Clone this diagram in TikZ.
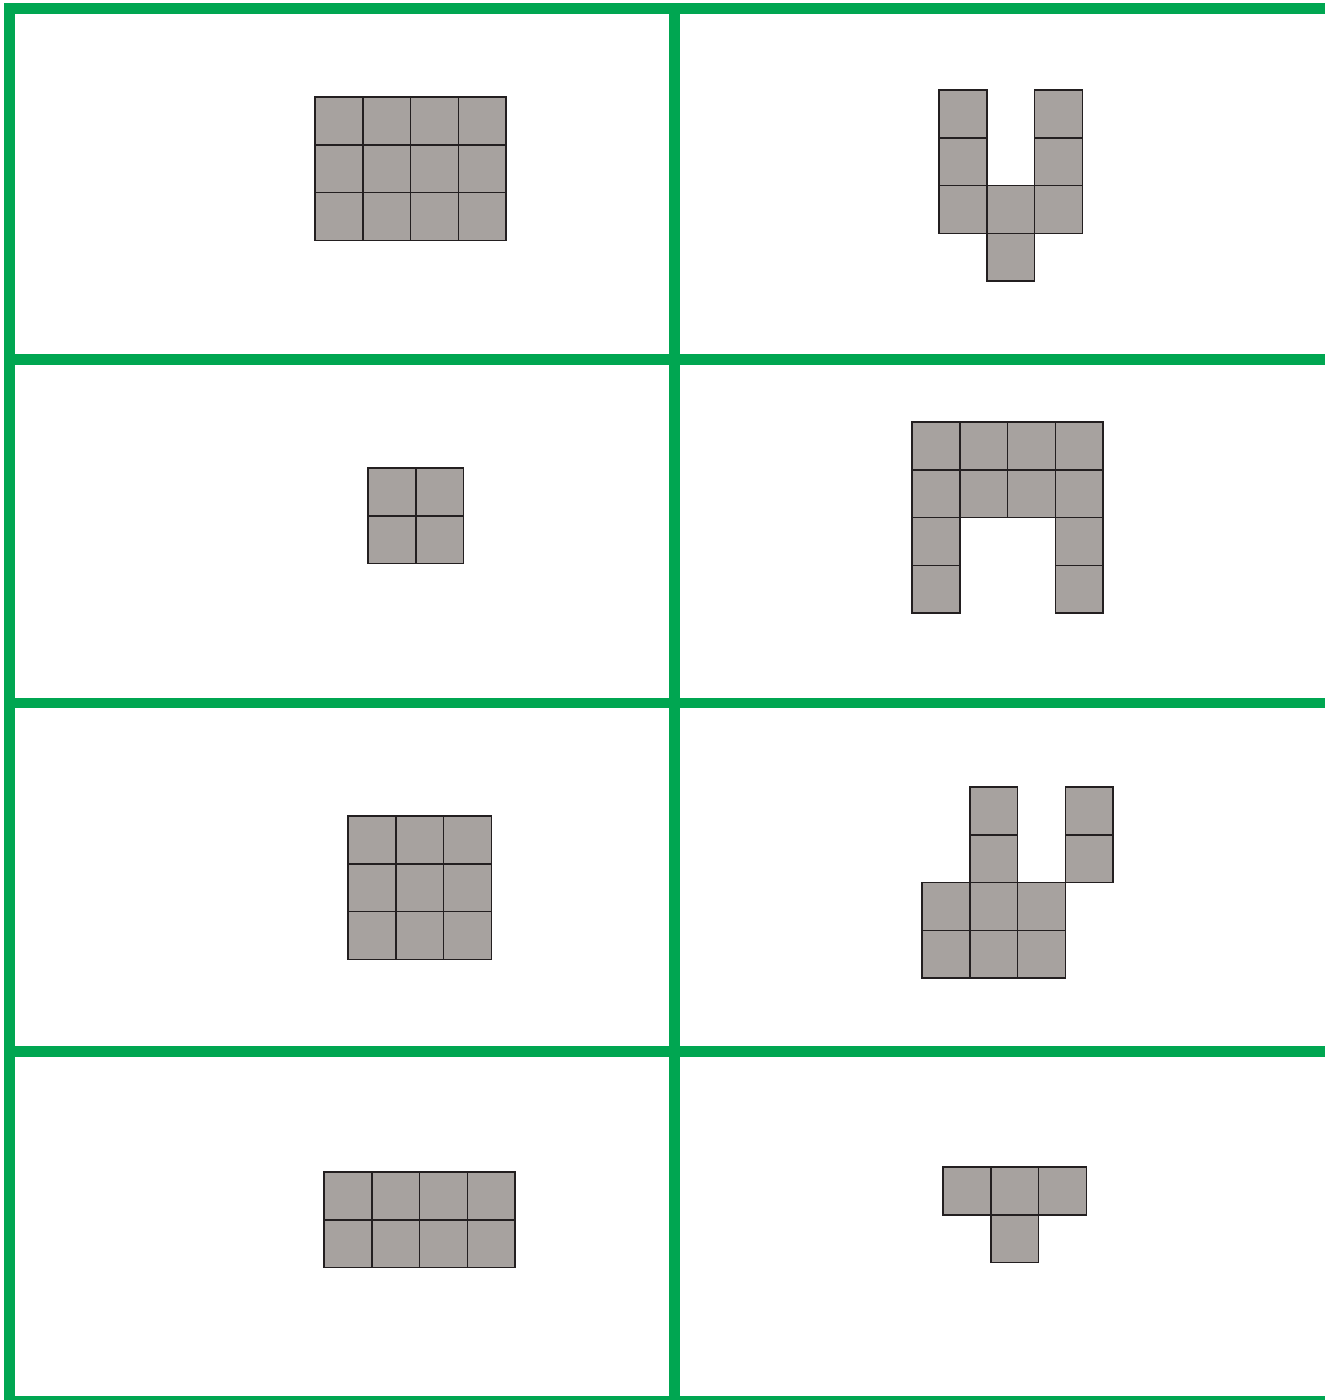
\documentclass[tikz,border=0pt]{standalone}
\definecolor{rastergroen}{HTML}{00A651}
\definecolor{vakgrijs}{HTML}{A7A29F}
\definecolor{vakrand}{HTML}{231F20}

\begin{document}
\begin{tikzpicture}[x=0.02cm,y=-0.02cm,
    lijn/.style={draw=rastergroen,line width=6.1pt,line cap=rect},
    vakje/.style={fill=vakgrijs,draw=vakrand,line width=0.85pt}]

  \clip (0,0) rectangle (1325,1400);

  % raster
  \foreach \y in {8.5,359.5,703,1051.3,1401}
    \draw[lijn] (9.5,\y) -- (1340,\y);
  \foreach \x in {9.5,674.7}
    \draw[lijn] (\x,8.5) -- (\x,1410);

  % links: rechthoeken
  \foreach \i in {0,...,3}
    \foreach \j in {0,...,2}
      \draw[vakje,shift={(315,97)}] (\i*47.8,\j*47.8) rectangle ++(47.8,47.8);
  \foreach \i in {0,1}
    \foreach \j in {0,1}
      \draw[vakje,shift={(368,468)}] (\i*47.8,\j*47.8) rectangle ++(47.8,47.8);
  \foreach \i in {0,...,2}
    \foreach \j in {0,...,2}
      \draw[vakje,shift={(348,816)}] (\i*47.8,\j*47.8) rectangle ++(47.8,47.8);
  \foreach \i in {0,...,3}
    \foreach \j in {0,1}
      \draw[vakje,shift={(324,1172)}] (\i*47.8,\j*47.8) rectangle ++(47.8,47.8);

  % rechts: losse figuren
  \foreach \i/\j in {0/0,0/1,0/2,1/2,1/3,2/0,2/1,2/2}
    \draw[vakje,shift={(939,90)}] (\i*47.8,\j*47.8) rectangle ++(47.8,47.8);
  \foreach \i/\j in {0/0,1/0,2/0,3/0,0/1,1/1,2/1,3/1,0/2,3/2,0/3,3/3}
    \draw[vakje,shift={(912,422)}] (\i*47.8,\j*47.8) rectangle ++(47.8,47.8);
  \foreach \i/\j in {1/0,1/1,3/0,3/1,0/2,1/2,2/2,0/3,1/3,2/3}
    \draw[vakje,shift={(922,787)}] (\i*47.8,\j*47.8) rectangle ++(47.8,47.8);
  \foreach \i/\j in {0/0,1/0,2/0,1/1}
    \draw[vakje,shift={(943,1167)}] (\i*47.8,\j*47.8) rectangle ++(47.8,47.8);

\end{tikzpicture}
\end{document}
